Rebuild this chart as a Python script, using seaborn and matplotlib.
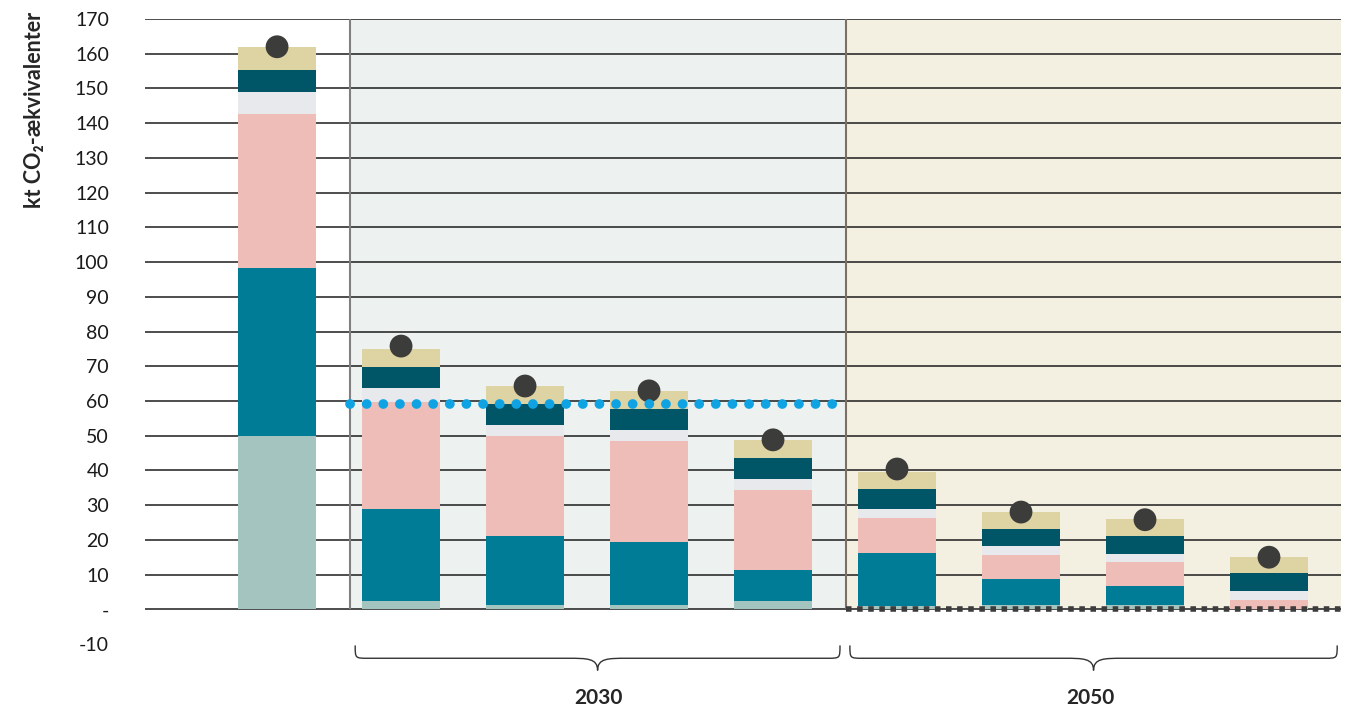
import numpy as np
import pandas as pd
import matplotlib.pyplot as plt
from matplotlib.path import Path
from matplotlib.patches import PathPatch
import seaborn as sns

# data (kt CO2-eq)
scenarios = ["Basis", "2030 A", "2030 B", "2030 C", "2030 D",
             "2050 A", "2050 B", "2050 C", "2050 D"]
layer_names = ["Lag 1", "Lag 2", "Lag 3", "Lag 4", "Lag 5", "Lag 6"]
lag1 = [50.0, 2.3, 1.2, 1.2, 2.3, 0.9, 1.2, 1.2, 0.0]
lag2 = [48.3, 26.5, 19.8, 18.1, 8.9, 15.2, 7.4, 5.4, 0.0]
lag3 = [44.3, 30.9, 28.9, 29.1, 23.1, 10.1, 7.0, 6.9, 2.6]
lag4 = [6.4, 4.0, 3.1, 3.2, 3.2, 2.6, 2.6, 2.3, 2.6]
lag5 = [6.3, 6.0, 6.1, 6.0, 6.0, 5.8, 4.9, 5.2, 5.2]
lag6 = [6.7, 5.2, 5.2, 5.2, 5.2, 4.8, 4.9, 4.9, 4.6]
totals = [162.0, 75.8, 64.3, 62.9, 48.8, 40.4, 28.0, 25.8, 15.0]
target_2030 = 59
target_2050 = 0
yticks = np.arange(-10, 171, 10)
group_labels = ["2030", "2050"]

colors = ["#a3c4bf", "#007c96", "#eebdb8", "#e8e9ec", "#005566", "#ded3a2"]

df = pd.DataFrame({"scenario": scenarios})
layers = [lag1, lag2, lag3, lag4, lag5, lag6]
for name, vals in zip(layer_names, layers):
    df[name] = vals
cum = df[layer_names].cumsum(axis=1)

sns.set_theme(style="white")
plt.rcParams["font.family"] = ["Lato", "DejaVu Sans"]

fig = plt.figure(figsize=(13.49, 7.11), dpi=100)
ax = fig.add_axes([0.1075, 0.0942, 0.8865, 0.8791])

# stacked bars: draw the cumulative tops from the highest layer down
for name, col in reversed(list(zip(layer_names, colors))):
    sns.barplot(x=df["scenario"], y=cum[name], color=col, width=0.63,
                linewidth=0, saturation=1, ax=ax, zorder=3)

x_left, x_right = -1.065, 8.58
split_a, split_b = 0.59, 4.59
ax.set_xlim(x_left, x_right)
ax.set_ylim(-10, 170)

# shaded periods
ax.axvspan(split_a, split_b, ymin=10 / 180, ymax=1, color="#edf1ef", zorder=0, lw=0)
ax.axvspan(split_b, x_right, ymin=10 / 180, ymax=1, color="#f3f0e1", zorder=0, lw=0)
ax.vlines(split_a, 0, 170, color="#808080", lw=1.5, zorder=1.5)
ax.vlines(split_b, 0, 170, color="#7a7064", lw=1.5, zorder=1.5)

# gridlines only from 0 upward
grid_vals = yticks[yticks >= 0]
ax.hlines(grid_vals, x_left, x_right, color="#1c1c1c", lw=1.1, zorder=1)

# target lines
ax.plot([split_a, split_b], [target_2030, target_2030], color="#0fa3e3",
        lw=7, linestyle=(0, (0.01, 1.7)), dash_capstyle="round",
        solid_capstyle="round", zorder=6)
ax.plot([split_b, x_right], [target_2050, target_2050], color="#3c3c3c",
        lw=4.0, linestyle=(0, (1, 1.0)), dash_capstyle="butt", zorder=6)

# totals
sns.scatterplot(x=np.arange(len(scenarios)), y=totals, s=270, color="#3c3c3b",
                edgecolor="none", ax=ax, zorder=5, legend=False)

ax.set_xlim(x_left, x_right)
ax.set_xticks([])
ax.set_xlabel("")
ax.set_ylabel("")
ax.set_yticks(yticks)
ax.set_yticklabels(["-" if v == 0 else str(v) for v in yticks], fontsize=14, color="#1a1a1a")
ax.tick_params(axis="y", length=0, pad=26)
for s in ax.spines.values():
    s.set_visible(False)


def brace(ax, x0, x1, y_top, y_line, y_tip, r=0.1, rm=0.24):
    xm = (x0 + x1) / 2
    verts = [(x0, y_top), (x0, y_line), (x0, y_line), (x0 + r, y_line),
             (xm - rm, y_line),
             (xm - rm * 0.35, y_line), (xm, y_line), (xm, y_tip),
             (xm, y_line), (xm + rm * 0.35, y_line), (xm + rm, y_line),
             (x1 - r, y_line),
             (x1, y_line), (x1, y_line), (x1, y_top)]
    codes = [Path.MOVETO, Path.CURVE4, Path.CURVE4, Path.CURVE4,
             Path.LINETO,
             Path.CURVE4, Path.CURVE4, Path.CURVE4,
             Path.CURVE4, Path.CURVE4, Path.CURVE4,
             Path.LINETO,
             Path.CURVE4, Path.CURVE4, Path.CURVE4]
    ax.add_patch(PathPatch(Path(verts, codes), fill=False, lw=1.0,
                           edgecolor="#333333", clip_on=False))


brace(ax, 0.63, 4.54, -10.4, -14.1, -17.6)
brace(ax, 4.62, 8.55, -10.4, -14.1, -17.6)
ax.text(2.59, -25.6, group_labels[0], ha="center", va="center",
        fontsize=15, fontweight="bold", clip_on=False)
ax.text(6.56, -25.6, group_labels[1], ha="center", va="center",
        fontsize=15, fontweight="bold", clip_on=False)

fig.text(35 / 1349, 1 - 12 / 711, "kt CO₂-ækvivalenter", rotation=90,
         ha="center", va="top", fontsize=15.5, fontweight="bold")

plt.savefig("out.png", dpi=100)
